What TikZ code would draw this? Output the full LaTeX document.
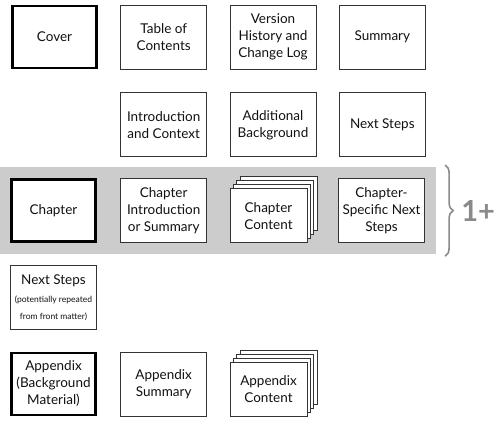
\documentclass[tikz,border=0pt]{standalone}
\usepackage{fontspec}
\setmainfont{Lato}
\usepackage{xcolor}
\usetikzlibrary{positioning,fit,backgrounds,shadows,decorations.pathreplacing}
\definecolor{docline}{HTML}{333333}
\definecolor{doctext}{HTML}{111111}
\definecolor{docband}{HTML}{CCCCCC}
\definecolor{docmark}{HTML}{8A8A8A}
\newcommand\notefont{\fontsize{8.5}{10}\selectfont}
\tikzset{
  part/.style={draw=docline,line width=0.8pt,fill=white,align=center,text=doctext,font=\fontsize{13.5}{17}\selectfont,minimum width=86pt,minimum height=64pt,inner sep=1pt},
  mainpart/.style={part,line width=2.6pt,draw=black,minimum width=84pt,minimum height=62pt},
  stack/.style={part,minimum width=77pt,minimum height=54pt,
    copy shadow={shadow xshift=10pt,shadow yshift=12pt,draw=docline,line width=0.8pt,fill=white},
    copy shadow={shadow xshift=6.6pt,shadow yshift=8pt,draw=docline,line width=0.8pt,fill=white},
    copy shadow={shadow xshift=3.3pt,shadow yshift=4pt,draw=docline,line width=0.8pt,fill=white}},
  band/.style={fill=docband,inner sep=11pt},
  brc/.style={draw=docmark,line width=1.6pt,decorate,decoration={brace,amplitude=8pt}},
}
\begin{document}
\begin{tikzpicture}[node distance=22pt and 22.5pt]
  \useasboundingbox (0,0) rectangle (500pt,-423pt);
  % front matter
  \node[mainpart] (cover) at (54.5pt,-37pt) {Cover};
  \node[part,right=of cover] (toc) {Table of\\Contents};
  \node[part,right=of toc] (history) {Version\\History and\\Change Log};
  \node[part,right=of history] (summary) {Summary};
  \node[part,below=23pt of toc] (intro) {Introduction\\and Context};
  \node[part,right=of intro] (backgr) {Additional\\Background};
  \node[part,right=of backgr] (next) {Next Steps};
  % chapters
  \node[part,below=21pt of intro] (chapintro) {Chapter\\Introduction\\or Summary};
  \node[mainpart,left=23.5pt of chapintro] (chap) {Chapter};
  \node[stack,right=22.5pt of chapintro.south east,anchor=south west] (chapcont) {Chapter\\Content};
  \node[part,right=131pt of chapintro] (chapnext) {Chapter-\\Specific Next\\Steps};
  \begin{scope}[on background layer]
    \node[band,fit=(chap) (chapnext)] (band) {};
  \end{scope}
  \coordinate (bt) at ([xshift=9pt,yshift=2pt]band.north east);
  \coordinate (bb) at ([xshift=9pt,yshift=-2pt]band.south east);
  \draw[brc] (bt) -- (bb);
  \node[text=docmark,font=\fontsize{29}{29}\bfseries\selectfont,anchor=west,inner sep=0pt] (count) at ([xshift=25pt]band.east) {1+};
  % back matter
  \node[part,below=of chap] (nextagain) {Next Steps\\[1pt]\notefont (potentially repeated\\\notefont from front matter)};
  \node[mainpart,below=of nextagain] (appendix) {Appendix\\(Background\\Material)};
  \node[part,right=23.5pt of appendix] (appsum) {Appendix\\Summary};
  \node[stack,right=22.5pt of appsum.south east,anchor=south west] (appcont) {Appendix\\Content};
\end{tikzpicture}
\end{document}
